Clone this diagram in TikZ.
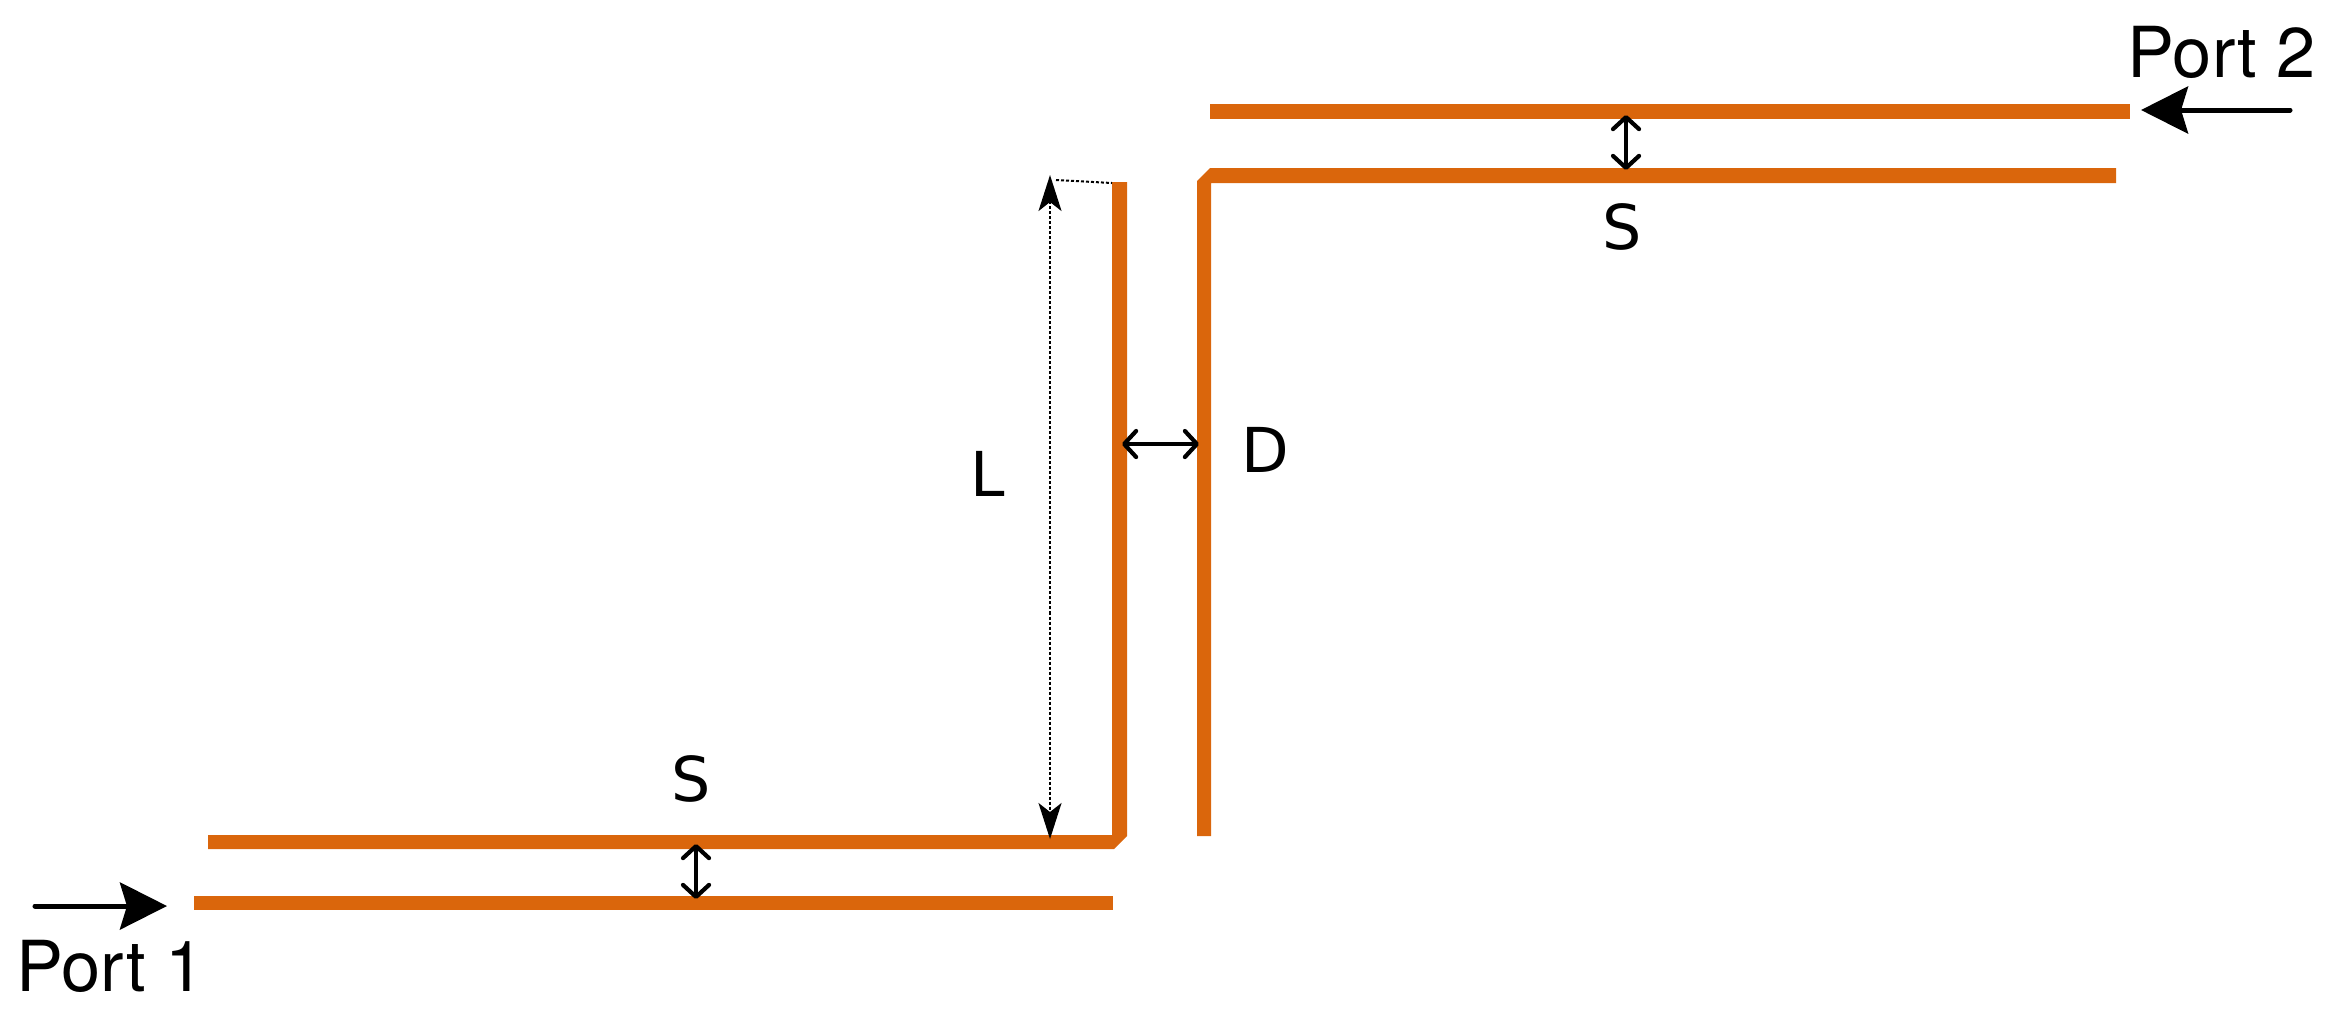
\documentclass[tikz,border=0pt]{standalone}
\usepackage{fontspec}
\newfontfamily\portfont{TeX Gyre Heros}
\newfontfamily\dimfont{DejaVu Sans}
\usetikzlibrary{arrows.meta}
\definecolor{traceorange}{RGB}{218,102,12}
\tikzstyle{trace} = [draw=traceorange, line width=1.45mm]
\tikzstyle{bentline} = [fill=traceorange]
\tikzstyle{port} = [inner sep=0pt, anchor=base west, font=\portfont\fontsize{20pt}{24pt}\selectfont]
\tikzstyle{dimlabel} = [inner sep=0pt, anchor=base west, font=\dimfont\fontsize{17.6pt}{21pt}\selectfont]
\tikzstyle{portarrow} = [line width=0.5mm, line cap=round, -{Stealth[length=4.7mm,width=4.7mm,inset=0.7mm]}]
\tikzstyle{gaparrow} = [line width=0.42mm, {Straight Barb[round,length=1.2mm,width=2.6mm]}-{Straight Barb[round,length=1.2mm,width=2.6mm]}]
\tikzstyle{leader} = [line width=0.2mm, dash pattern=on 0.3mm off 0.2mm]
\begin{document}
\begin{tikzpicture}[x=0.01cm,y=-0.01cm]
    \useasboundingbox (0,0) rectangle (2331,1011);
    % traces
    \draw[trace] (194,903) -- (1113,903);
    \draw[trace] (1210,111.5) -- (2130,111.5);
    \fill[bentline] (208,835) -- (1112,835) -- (1112,182) -- (1127,182)
        -- (1127,836) -- (1114,849) -- (208,849) -- cycle;
    \fill[bentline] (1197,836) -- (1197,181) -- (1210,168) -- (2116,168)
        -- (2116,183) -- (1211,183) -- (1211,836) -- cycle;
    % ports
    \coordinate (port1start) at (35,906);
    \coordinate (port1end) at (167,906);
    \coordinate (port2start) at (2290,110);
    \coordinate (port2end) at (2141,110);
    \draw[portarrow] (port1start) -- (port1end);
    \draw[portarrow] (port2start) -- (port2end);
    \node[port] (port1) at (16,991) {Port 1};
    \node[port] (port2) at (2127,77) {Port 2};
    % dimensions
    \coordinate (s1top) at (696,844);
    \coordinate (s1bot) at (696,899);
    \coordinate (s2top) at (1626,115);
    \coordinate (s2bot) at (1626,170);
    \coordinate (dleft) at (1122,444);
    \coordinate (dright) at (1199,444);
    \coordinate (ltop) at (1050,175);
    \coordinate (lbot) at (1050,839);
    \coordinate (ltick) at (1056,180);
    \coordinate (lend) at (1112,183);
    \draw[gaparrow] (s1top) -- (s1bot);
    \draw[gaparrow] (s2top) -- (s2bot);
    \draw[gaparrow] (dleft) -- (dright);
    \draw[leader, {Stealth[length=3.6mm,width=2.3mm,inset=0.9mm]}-{Stealth[length=3.6mm,width=2.3mm,inset=0.9mm]}] (ltop) -- (lbot);
    \draw[leader] (ltick) -- (lend);
    \node[dimlabel] (s1) at (671,801) {S};
    \node[dimlabel] (s2) at (1602,249) {S};
    \node[dimlabel] (d) at (1241,472) {D};
    \node[dimlabel] (l) at (970,496) {L};
\end{tikzpicture}
\end{document}
